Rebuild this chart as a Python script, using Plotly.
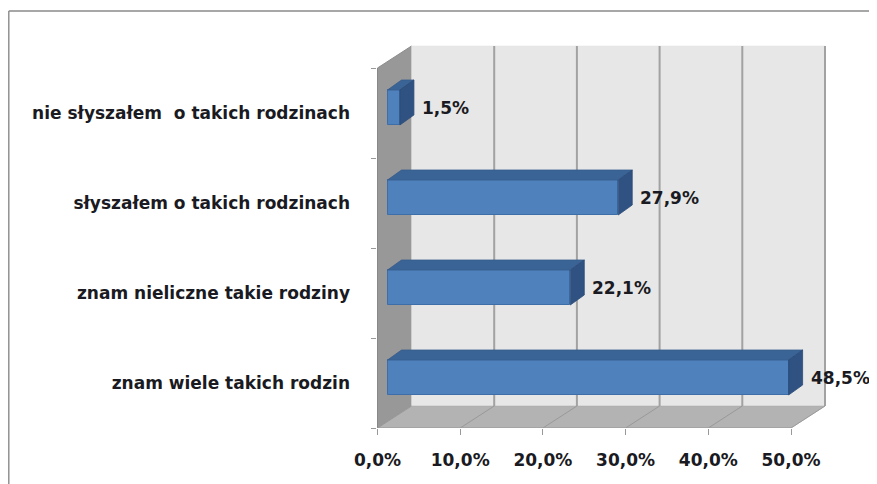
import plotly.graph_objects as go

# ---- data (bottom to top) ----
categories = ["znam wiele takich rodzin", "znam nieliczne takie rodziny",
              "słyszałem o takich rodzinach", "nie słyszałem  o takich rodzinach"]
values = [48.5, 22.1, 27.9, 1.5]
x_ticks = [0, 10, 20, 30, 40, 50]
x_tick_labels = [f"{v:.1f}".replace(".", ",") + "%" for v in x_ticks]
value_labels = [f"{v:.1f}".replace(".", ",") + "%" for v in values]

# ---- pseudo-3D geometry (data units) ----
PX_PER_PCT = 8.27
PX_PER_CAT = 90.0
DX = 34 / PX_PER_PCT      # wall depth in x
DY = 22 / PX_PER_CAT      # wall depth in y
XOFF = 10 / PX_PER_PCT    # bar front offset
YOFF = 5.5 / PX_PER_CAT
BH = 35 / PX_PER_CAT      # bar height
BDX = 14 / PX_PER_PCT     # bar depth
BDY = 10 / PX_PER_CAT
XMAX = x_ticks[-1]
YB, YT = -0.5, len(categories) - 0.5

# page body has an 8px margin -> figure sized to fit the window
W, H = 869, 476
L, B = 369, 56
plot_w = W - L
plot_h = H - B

FONT = "DejaVu Sans"
TXT = "#1a1a22"

def path(pts):
    return "M " + " L ".join(f"{x},{y}" for x, y in pts) + " Z"

shapes = []
# left wall
shapes.append(dict(type="path", xref="x", yref="y", layer="below",
                   path=path([(0, YB), (0, YT), (DX, YT + DY), (DX, YB + DY)]),
                   fillcolor="#989898", line=dict(color="#8c8c8c", width=1)))
# back wall
shapes.append(dict(type="path", xref="x", yref="y", layer="below",
                   path=path([(DX, YB + DY), (DX, YT + DY), (XMAX + DX, YT + DY), (XMAX + DX, YB + DY)]),
                   fillcolor="#e7e7e7", line=dict(color="#e0e0e0", width=0.5)))
# floor
shapes.append(dict(type="path", xref="x", yref="y", layer="below",
                   path=path([(0, YB), (XMAX, YB), (XMAX + DX, YB + DY), (DX, YB + DY)]),
                   fillcolor="#b3b3b3", line=dict(color="#a8a8a8", width=0.5)))
# gridlines on back wall and floor
for t in x_ticks:
    if t > 0:
        shapes.append(dict(type="line", xref="x", yref="y", layer="below",
                           x0=t + DX, x1=t + DX, y0=YB + DY, y1=YT + DY,
                           line=dict(color="#a2a2a2", width=2)))
    shapes.append(dict(type="line", xref="x", yref="y", layer="below",
                       x0=t, x1=t + DX, y0=YB, y1=YB + DY,
                       line=dict(color="#999999", width=1)))
# front edges
shapes.append(dict(type="line", xref="x", yref="y", layer="below",
                   x0=0, x1=0, y0=YB, y1=YT, line=dict(color="#888888", width=1)))
shapes.append(dict(type="line", xref="x", yref="y", layer="below",
                   x0=0, x1=XMAX, y0=YB, y1=YB, line=dict(color="#999999", width=1)))

# bar top and side faces
for i, v in enumerate(values):
    yc = i + YOFF
    yt, yb = yc + BH / 2, yc - BH / 2
    x0, x1 = XOFF, XOFF + v
    shapes.append(dict(type="path", xref="x", yref="y", layer="above",
                       path=path([(x0, yt), (x1, yt), (x1 + BDX, yt + BDY), (x0 + BDX, yt + BDY)]),
                       fillcolor="#3b6496", line=dict(color="#355b8a", width=0.8)))
    shapes.append(dict(type="path", xref="x", yref="y", layer="above",
                       path=path([(x1, yb), (x1, yt), (x1 + BDX, yt + BDY), (x1 + BDX, yb + BDY)]),
                       fillcolor="#2f5282", line=dict(color="#2b4b78", width=0.8)))

# outer chart border (left and top edges)
bx = (0.8 - L) / plot_w
by = (plot_h - 3) / plot_h
shapes.append(dict(type="line", xref="paper", yref="paper", x0=bx, x1=bx, y0=by, y1=-0.3,
                   line=dict(color="#8a8a8a", width=1.4)))
shapes.append(dict(type="line", xref="paper", yref="paper", x0=bx, x1=1.05, y0=by, y1=by,
                   line=dict(color="#8a8a8a", width=1.4)))

fig = go.Figure()
fig.add_trace(go.Bar(
    orientation="h",
    y=[i + YOFF for i in range(len(values))],
    x=values,
    base=[XOFF] * len(values),
    width=BH,
    marker=dict(color="#4f81bd", line=dict(color="#3e6ea8", width=1)),
    hoverinfo="skip",
))

annotations = []
for i, v in enumerate(values):
    annotations.append(dict(x=XOFF + v + BDX, y=i + YOFF, xref="x", yref="y",
                            text=value_labels[i], showarrow=False, xanchor="left",
                            yanchor="middle", xshift=6,
                            font=dict(family=FONT, size=17, color=TXT, weight="bold")))

fig.update_layout(
    width=W, height=H,
    margin=dict(l=L, r=0, t=0, b=B, pad=0, autoexpand=False),
    paper_bgcolor="white", plot_bgcolor="white",
    showlegend=False,
    shapes=shapes,
    annotations=annotations,
    bargap=0,
    xaxis=dict(range=[-0.5 / PX_PER_PCT, -0.5 / PX_PER_PCT + plot_w / PX_PER_PCT],
               tickvals=x_ticks, ticktext=x_tick_labels,
               ticks="outside", ticklen=6, tickcolor="#999999", tickwidth=1,
               showgrid=False, zeroline=False, showline=False,
               ticklabelstandoff=11, automargin=False,
               tickfont=dict(family=FONT, size=17, color=TXT, weight="bold"),
               fixedrange=True),
    yaxis=dict(range=[YB, YB + plot_h / PX_PER_CAT],
               tickvals=list(range(len(categories))), ticktext=categories,
               ticks="", ticklen=0,
               minor=dict(tickmode="array", tickvals=[k - 0.5 for k in range(len(categories) + 1)],
                          ticks="outside", ticklen=5, tickcolor="#999999", showgrid=False),
               showgrid=False, zeroline=False, showline=False,
               ticklabelstandoff=26, automargin=False,
               tickfont=dict(family=FONT, size=17, color=TXT, weight="bold"),
               fixedrange=True),
)

fig.write_html("out.html")
